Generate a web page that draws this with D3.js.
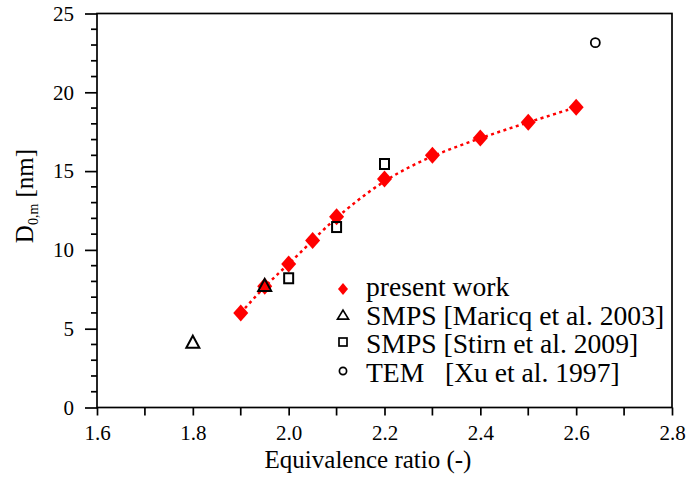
<!DOCTYPE html>
<html><head><meta charset="utf-8">
<script src="https://cdn.jsdelivr.net/npm/d3@7"></script>
<style>body{margin:0;background:#fff}svg{display:block}svg text{font-family:'Liberation Serif','Times New Roman','DejaVu Serif',serif !important;fill:#000}</style>
</head><body>
<svg id="c" width="693" height="481"></svg>
<script>
const presentX = [1.9, 1.95, 2.0, 2.05, 2.1, 2.2, 2.3, 2.4, 2.5, 2.6];
const presentY = [6.0, 7.7, 9.1, 10.6, 12.1, 14.5, 16.0, 17.1, 18.1, 19.05];
const maricqX = [1.8, 1.95];
const maricqY = [4.1, 7.7];
const stirnX = [2.0, 2.1, 2.2];
const stirnY = [8.2, 11.45, 15.45];
const xuX = [2.64];
const xuY = [23.15];
const xTicks = [1.6, 1.8, 2.0, 2.2, 2.4, 2.6, 2.8];
const yTicks = [0, 5, 10, 15, 20, 25];
const legendLabels = ["present work", "SMPS [Maricq et al. 2003]", "SMPS [Stirn et al. 2009]", "TEM\u00a0\u00a0\u00a0[Xu et al. 1997]"];

const FONT = "'Liberation Serif','Times New Roman','DejaVu Serif',serif";
const svg = d3.select("#c").attr("font-family", FONT);
const L = 97, R = 672, T = 13.5, B = 407.5;
const x = d3.scaleLinear().domain([1.6, 2.8]).range([L, R]);
const y = d3.scaleLinear().domain([0, 25]).range([B, T]);

// frame
svg.append("rect").attr("x", L).attr("y", T).attr("width", R - L).attr("height", B - T)
  .attr("fill", "none").attr("stroke", "#000").attr("stroke-width", 1.7);

// x axis
const xMinor = d3.range(1.7, 2.8, 0.2);
const gx = svg.append("g").attr("transform", `translate(0,${B})`);
gx.call(d3.axisBottom(x).tickValues(xTicks).tickFormat(d3.format(".1f")).tickSize(8).tickPadding(10))
  .call(g => g.select(".domain").remove());
gx.attr("font-family", FONT).attr("font-size", 21);
gx.selectAll(".tick line").attr("stroke-width", 1.7);
gx.selectAll(".minor").data(xMinor).enter().append("line")
  .attr("x1", d => x(d)).attr("x2", d => x(d)).attr("y1", 0).attr("y2", 8)
  .attr("stroke", "#000").attr("stroke-width", 1.7);

// y axis
const gy = svg.append("g").attr("transform", `translate(${L},0)`);
gy.call(d3.axisLeft(y).tickValues(yTicks).tickSize(12).tickPadding(11))
  .call(g => g.select(".domain").remove());
gy.attr("font-family", FONT).attr("font-size", 21);
gy.selectAll(".tick line").attr("stroke-width", 1.7);
const yMinor = d3.range(1, 25).filter(v => v % 5 !== 0);
gy.selectAll(".minor").data(yMinor).enter().append("line")
  .attr("x1", -6).attr("x2", 0).attr("y1", d => y(d)).attr("y2", d => y(d))
  .attr("stroke", "#000").attr("stroke-width", 1.7);

// axis titles
svg.append("text").attr("x", 368).attr("y", 468).attr("text-anchor", "middle")
  .attr("font-size", 25).text("Equivalence ratio (-)");
const yl = svg.append("text").attr("transform", `translate(33,196) rotate(-90)`)
  .attr("text-anchor", "middle").attr("font-size", 25);
yl.append("tspan").text("D");
yl.append("tspan").attr("dy", 5).attr("font-size", 14).text("0,m");
yl.append("tspan").attr("dy", -5).text(" [nm]");

// fitted dotted line
const pts = presentX.map((v, i) => [v, presentY[i]]);
svg.append("path").datum(pts)
  .attr("d", d3.line().x(d => x(d[0])).y(d => y(d[1])).curve(d3.curveBasis))
  .attr("fill", "none").attr("stroke", "#ff0000").attr("stroke-width", 2.5).attr("stroke-dasharray", "3,3.5");

const diaPath = (w, h) => `M0,${-h / 2}L${w / 2},0L0,${h / 2}L${-w / 2},0Z`;
svg.selectAll(".pw").data(pts).enter().append("path")
  .attr("d", diaPath(15, 17))
  .attr("transform", d => `translate(${x(d[0])},${y(d[1])})`)
  .attr("fill", "#ff0000");

const triPath = (w, h) => `M0,${-h * 0.6}L${w / 2},${h * 0.4}L${-w / 2},${h * 0.4}Z`;
svg.selectAll(".tri").data(maricqX.map((v, i) => [v, maricqY[i]])).enter().append("path")
  .attr("d", triPath(13, 12)).attr("transform", d => `translate(${x(d[0])},${y(d[1])})`)
  .attr("fill", "none").attr("stroke", "#000").attr("stroke-width", 2);

svg.selectAll(".sq").data(stirnX.map((v, i) => [v, stirnY[i]])).enter().append("rect")
  .attr("x", d => x(d[0]) - 4.5).attr("y", d => y(d[1]) - 5).attr("width", 9).attr("height", 10)
  .attr("fill", "none").attr("stroke", "#000").attr("stroke-width", 2);

svg.selectAll(".ci").data(xuX.map((v, i) => [v, xuY[i]])).enter().append("circle")
  .attr("cx", d => x(d[0])).attr("cy", d => y(d[1])).attr("r", 4.5)
  .attr("fill", "none").attr("stroke", "#000").attr("stroke-width", 1.8);

// legend
const lx = 343, lb0 = 296, dy = 28.5, tx = 366;
const lg = svg.append("g");
lg.append("path").attr("d", diaPath(10, 12))
  .attr("transform", `translate(${lx},${lb0 - 7})`).attr("fill", "#ff0000");
lg.append("path").attr("d", triPath(11, 9)).attr("transform", `translate(${lx},${lb0 + dy - 9})`)
  .attr("fill", "none").attr("stroke", "#000").attr("stroke-width", 1.7);
lg.append("rect").attr("x", lx - 4).attr("y", lb0 + 2 * dy - 15).attr("width", 8).attr("height", 8)
  .attr("fill", "none").attr("stroke", "#000").attr("stroke-width", 1.7);
lg.append("circle").attr("cx", lx).attr("cy", lb0 + 3 * dy - 10.5).attr("r", 3.6)
  .attr("fill", "none").attr("stroke", "#000").attr("stroke-width", 1.7);
lg.selectAll(".lt").data(legendLabels).enter().append("text")
  .attr("x", tx).attr("y", (d, i) => lb0 + i * dy)
  .attr("font-size", 27.6).text(d => d);
</script>
</body></html>
